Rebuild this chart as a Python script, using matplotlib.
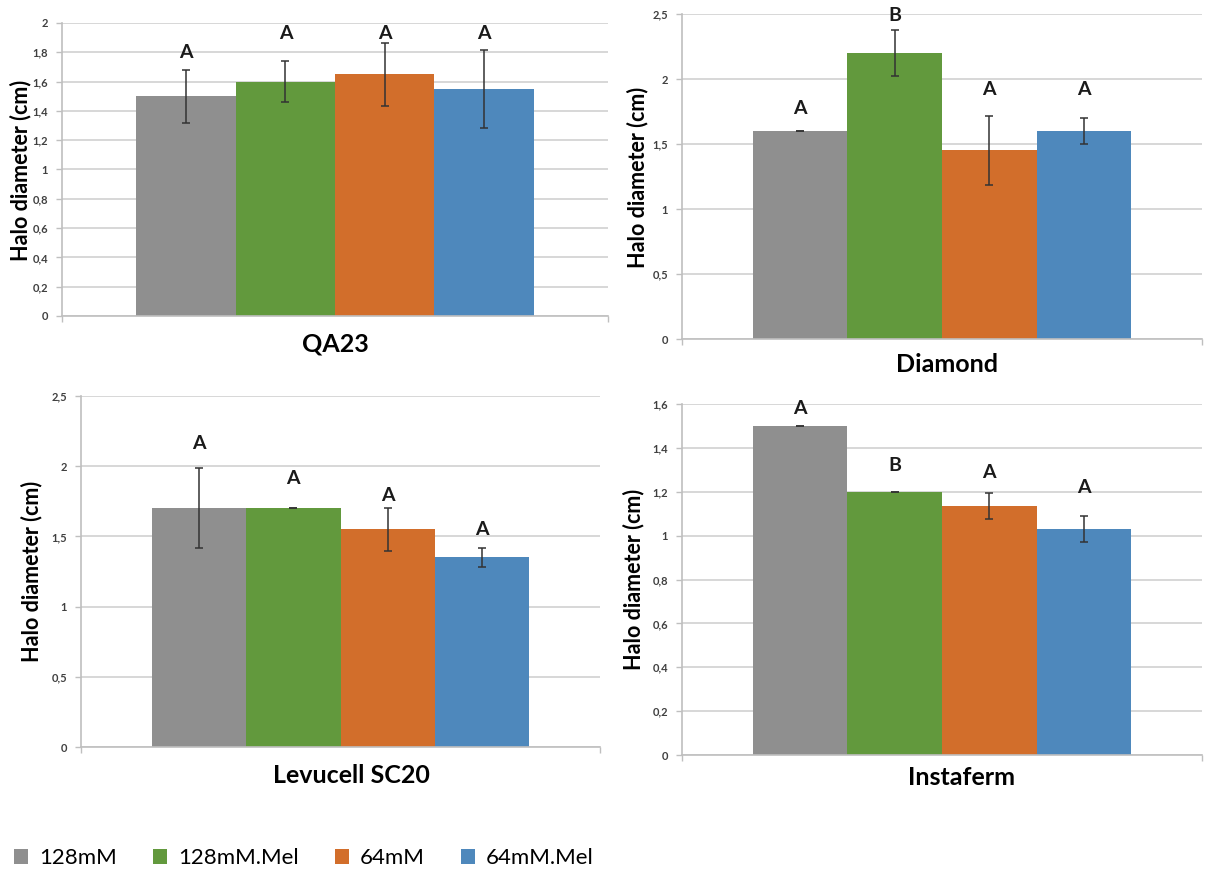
import matplotlib
matplotlib.use("Agg")
import matplotlib.pyplot as plt
from matplotlib.ticker import FuncFormatter, MultipleLocator

plt.rcParams['font.family'] = ['Lato', 'DejaVu Sans']

# treatments (legend order) and bar colours
treatments = ['128mM', '128mM.Mel', '64mM', '64mM.Mel']
colors = ['#8f8f8f', '#62993d', '#d26e2b', '#4e88bc']

# one panel per yeast strain
strains = ['QA23', 'Diamond', 'Levucell SC20', 'Instaferm']

qa23_means = [1.50, 1.60, 1.65, 1.55]
qa23_err = [0.18, 0.14, 0.215, 0.265]
qa23_letters = ['A', 'A', 'A', 'A']
qa23_letter_y = [1.80, 1.93, 1.93, 1.93]

diamond_means = [1.60, 2.20, 1.45, 1.60]
diamond_err = [0.0, 0.18, 0.265, 0.10]
diamond_letters = ['A', 'B', 'A', 'A']
diamond_letter_y = [1.77, 2.49, 1.92, 1.92]

levucell_means = [1.70, 1.70, 1.55, 1.35]
levucell_err = [0.285, 0.0, 0.155, 0.07]
levucell_letters = ['A', 'A', 'A', 'A']
levucell_letter_y = [2.16, 1.91, 1.79, 1.55]

instaferm_means = [1.50, 1.20, 1.135, 1.03]
instaferm_err = [0.0, 0.0, 0.06, 0.06]
instaferm_letters = ['A', 'B', 'A', 'A']
instaferm_letter_y = [1.58, 1.32, 1.29, 1.22]

# y axis max and tick step per panel
y_max = [2.0, 2.5, 2.5, 1.6]
y_step = [0.2, 0.5, 0.5, 0.2]

W, H = 1211, 872
fig = plt.figure(figsize=(W / 100, H / 100), dpi=100)


def px_rect(x0, y0, x1, y1):
    # pixel box (top-left origin) -> figure fraction rect
    return [x0 / W, 1 - y1 / H, (x1 - x0) / W, (y1 - y0) / H]


def px(x, y):
    return x / W, 1 - y / H


# plot area boxes in pixels: left, top, right, bottom
boxes = [(62, 23, 608, 316), (682, 14, 1202, 339),
         (81, 396, 600, 747), (682, 404, 1202, 755)]
title_pos = [(335, 344), (947, 364), (351, 775), (962, 777)]
ylabel_pos = [(21, 170), (638, 177), (32, 571), (634, 579)]

panels = [
    (qa23_means, qa23_err, qa23_letters, qa23_letter_y),
    (diamond_means, diamond_err, diamond_letters, diamond_letter_y),
    (levucell_means, levucell_err, levucell_letters, levucell_letter_y),
    (instaferm_means, instaferm_err, instaferm_letters, instaferm_letter_y),
]

comma = FuncFormatter(lambda v, p: ('%g' % round(v, 2)).replace('.', ','))
half_span = 2.75
handles = []

for k, (means, errs, letters, letter_y) in enumerate(panels):
    ax = fig.add_axes(px_rect(*boxes[k]))
    xs = list(range(len(treatments)))
    bars = ax.bar(xs, means, width=1.0, color=colors, yerr=errs, capsize=3,
                  error_kw=dict(elinewidth=1.1, ecolor='#333333', capthick=1.1),
                  zorder=2)
    if k == 0:
        handles = bars.patches
    for x, lab, ly in zip(xs, letters, letter_y):
        ax.text(x, ly, lab, ha='center', va='center', fontsize=14,
                fontweight='bold', color='#1a1a1a', zorder=3)

    ax.set_xlim(1.5 - half_span, 1.5 + half_span)
    ax.set_ylim(0, y_max[k])
    ax.yaxis.set_major_locator(MultipleLocator(y_step[k]))
    ax.yaxis.set_major_formatter(comma)
    ax.set_xticks([1.5 - half_span, 1.5 + half_span])
    ax.set_xticklabels(['', ''])
    ax.tick_params(axis='x', length=4, color='#bfbfbf', width=1)
    ax.tick_params(axis='y', length=4, color='#bfbfbf', width=1,
                   labelsize=8, labelcolor='#404040', pad=6)
    for t in ax.get_yticklabels():
        t.set_fontweight('bold')
    ax.grid(axis='y', color='#d4d4d4', linewidth=1.3, zorder=0)
    ax.set_axisbelow(True)
    for side in ['top', 'right']:
        ax.spines[side].set_visible(False)
    for side in ['left', 'bottom']:
        ax.spines[side].set_color('#bfbfbf')
        ax.spines[side].set_linewidth(1.2)

    tx, ty = px(*title_pos[k])
    fig.text(tx, ty, strains[k], ha='center', va='center', fontsize=18,
             fontweight='bold', color='#000000')
    lx, ly = px(*ylabel_pos[k])
    fig.text(lx, ly, 'Halo diameter (cm)', ha='center', va='center',
             rotation=90, fontsize=15.5, fontweight='bold', color='#000000')

lx, ly = px(14, 858)
fig.legend(handles, treatments, loc='center left', bbox_to_anchor=(lx, ly),
           ncol=4, frameon=False, fontsize=16, handlelength=0.65,
           handleheight=0.65, handletextpad=0.5, columnspacing=1.6,
           borderaxespad=0, borderpad=0)

fig.savefig('out.png', dpi=100)
plt.close(fig)
